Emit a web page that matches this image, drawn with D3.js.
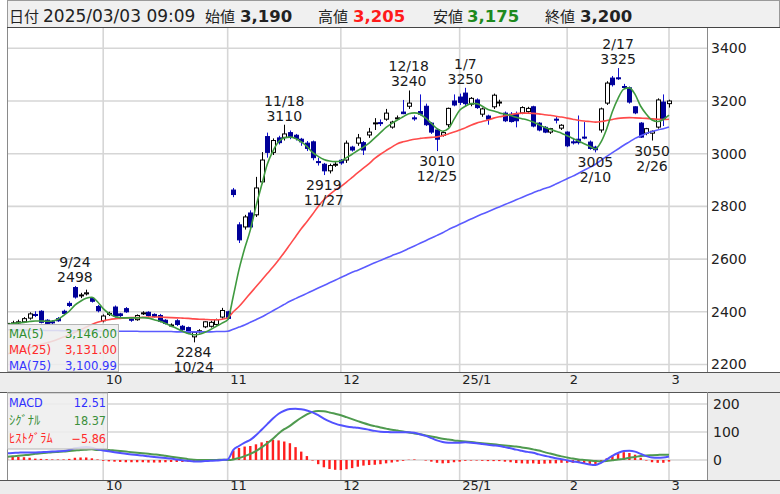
<!DOCTYPE html>
<html>
<head>
<meta charset="utf-8">
<script src="https://cdn.jsdelivr.net/npm/d3@7"></script>
<style>
  body { margin: 0; background: #fff; }
  svg { display: block; font-family: "DejaVu Sans", "Noto Sans CJK JP", sans-serif; }
</style>
</head>
<body>
<svg id="chart" width="780" height="494"></svg>
<script>
// ---- daily series: trading days from 2024/09/04 to 2025/03/03 ----
const tickLabels = ["10", "11", "12", "25/1", "2", "3"];
const tickIndex  = [17, 39, 59, 80, 99, 117];
const priceTicks = [2200, 2400, 2600, 2800, 3000, 3200, 3400];
const macdTicks  = [0, 100, 200];

const open = [2352,2356,2360,2362,2376,2390,2402,2368,2362,2374,2402,2432,2492,2462,2468,2450,2420,
  2366,2392,2418,2392,2412,2372,2370,2394,2398,2390,2386,2368,2350,2366,2345,2340,2305,2326,2343,2345,2352,2380,
  2400,2862,2730,2722,2775,2768,2893,3065,3005,3060,3062,3080,3070,3055,3040,3045,2970,2960,2935,2960,
  2975,2976,3025,3040,3042,3071,3116,3118,3131,3101,3135,3158,3180,3136,3160,3180,3116,3090,3070,3110,3200,
  3215,3230,3188,3204,3150,3143,3178,3196,3154,3150,3152,3155,3160,3178,3116,3100,3082,3131,3097,
  3082,3045,3055,3063,3044,3025,3090,3192,3287,3288,3255,3250,3178,3116,3078,3078,3101,3196,3190];
const high = [2362,2366,2370,2380,2398,2402,2406,2372,2368,2380,2408,2440,2498,2472,2484,2456,2426,
  2390,2400,2424,2396,2418,2378,2390,2402,2402,2394,2392,2372,2356,2372,2350,2344,2326,2334,2364,2366,2374,2415,
  2404,2870,2740,2768,2785,2912,3006,3080,3058,3068,3110,3088,3075,3060,3048,3050,2985,2965,2962,2968,
  2980,3050,3030,3075,3048,3098,3135,3130,3170,3125,3145,3204,3240,3145,3225,3190,3120,3095,3085,3175,3225,
  3228,3250,3215,3210,3175,3148,3228,3205,3160,3158,3160,3180,3178,3182,3120,3105,3098,3140,3112,
  3085,3060,3145,3120,3050,3030,3175,3275,3295,3325,3265,3255,3180,3120,3098,3088,3210,3225,3205];
const low = [2345,2350,2352,2358,2370,2380,2356,2350,2352,2362,2390,2418,2450,2452,2462,2435,2398,
  2360,2384,2378,2380,2396,2362,2366,2388,2382,2378,2360,2352,2342,2346,2328,2316,2284,2318,2338,2340,2348,2374,
  2370,2835,2661,2712,2715,2760,2885,2985,2995,3035,3050,3055,3050,3030,3010,2975,2955,2919,2925,2950,
  2958,2965,3008,3030,2995,3060,3090,3105,3125,3095,3128,3150,3170,3125,3145,3105,3075,3010,3065,3100,3180,
  3185,3180,3180,3170,3140,3110,3170,3180,3120,3118,3100,3150,3155,3100,3085,3078,3075,3115,3090,
  3025,3035,3035,3055,3015,3005,3080,3185,3255,3280,3245,3190,3150,3060,3070,3050,3095,3105,3175];
const close = [2356,2358,2362,2374,2392,2386,2360,2356,2358,2366,2394,2424,2456,2464,2472,2440,2404,
  2384,2394,2384,2386,2400,2368,2386,2396,2386,2382,2364,2356,2350,2352,2332,2320,2322,2328,2362,2360,2370,2405,
  2375,2845,2673,2760,2722,2870,2976,3005,3050,3042,3075,3062,3058,3045,3020,2985,2968,2935,2955,2960,
  2965,3040,3014,3060,3014,3082,3117,3116,3154,3120,3136,3152,3192,3135,3150,3110,3082,3055,3080,3172,3185,
  3195,3190,3210,3175,3170,3131,3222,3196,3125,3122,3125,3175,3172,3105,3090,3082,3095,3130,3108,
  3030,3044,3042,3062,3020,3015,3170,3268,3262,3286,3252,3196,3155,3063,3095,3085,3204,3130,3200];

const ma5 = [2352,2355,2358,2360,2363,2365,2365,2364,2365,2372,2386,2402,2425,2440,2451,2455,2438,
  2412,2394,2382,2378,2377,2377,2377,2378,2376,2370,2364,2356,2346,2337,2326,2318,2313,2315,2322,2333,2345,2357,
  2370,2460,2560,2640,2710,2800,2880,2960,3010,3045,3060,3063,3058,3045,3028,3005,2990,2978,2972,2970,
  2972,2985,2998,3012,3025,3040,3060,3080,3100,3115,3128,3140,3152,3155,3150,3135,3115,3095,3085,3095,3130,
  3165,3180,3190,3190,3180,3168,3162,3155,3150,3145,3138,3133,3128,3120,3110,3100,3093,3085,3078,
  3068,3058,3048,3038,3028,3018,3045,3095,3160,3210,3245,3250,3225,3180,3150,3128,3122,3130,3146];
const ma25 = [2240,2246,2252,2258,2264,2270,2276,2282,2288,2296,2304,2313,2322,2332,2342,2352,2360,
  2366,2370,2373,2375,2377,2378,2378,2379,2380,2380,2380,2379,2378,2377,2376,2375,2373,2372,2371,2370,2370,2372,
  2377,2400,2420,2445,2470,2495,2520,2545,2570,2597,2625,2655,2685,2715,2742,2770,2800,2825,2845,2862,
  2875,2892,2910,2928,2945,2962,2982,2998,3012,3025,3038,3045,3050,3055,3058,3060,3062,3064,3068,3075,3082,
  3090,3098,3108,3116,3122,3128,3135,3140,3144,3148,3152,3154,3154,3153,3151,3148,3146,3142,3139,
  3135,3131,3127,3124,3122,3120,3122,3126,3130,3134,3136,3137,3136,3135,3134,3132,3131,3130,3131];
const ma75 = [2332,2332,2331,2331,2330,2330,2330,2329,2329,2329,2328,2328,2328,2328,2327,2327,2327,
  2327,2327,2326,2326,2326,2326,2326,2325,2325,2325,2325,2325,2325,2324,2324,2324,2324,2324,2324,2324,2325,2325,
  2326,2334,2342,2350,2360,2370,2380,2392,2404,2416,2428,2440,2450,2460,2470,2480,2490,2500,2510,2520,
  2530,2540,2550,2558,2567,2577,2586,2595,2604,2613,2621,2630,2640,2650,2660,2670,2680,2690,2700,2712,2722,
  2732,2742,2752,2762,2771,2780,2789,2798,2807,2816,2825,2834,2843,2852,2860,2868,2875,2885,2895,
  2905,2915,2926,2937,2948,2960,2975,2990,3004,3018,3032,3045,3058,3068,3077,3084,3090,3095,3100.99];

const macd = [24,25,26,27,27,27,28,29,30,31,32,36,42,45,46,44,38,
  34,31,28,25,22,20,18,16,13,11,9,7,5,2,-1,-3,-5,-5,-4,-3,-2,0,
  2,36,50,62,72,88,108,128,148,165,176,182,183,181,177,170,160,148,138,130,
  124,120,117,115,112,108,104,101,100,99,99,99,99,97,92,86,78,70,64,62,62,
  62,63,62,60,57,54,52,50,46,42,37,33,29,26,20,15,11,6,3,
  -1,-5,-8,-12,-16,-18,-10,2,15,25,32,33,30,22,14,9,8,9,12.51];
const signal = [12,13,15,17,19,22,24,26,28,29,30,32,34,36,37,38,36,
  37,36,34,32,30,28,26,24,22,20,18,15,12,9,6,3,1,0,0,0,0,1,
  0,2,7,14,22,32,45,60,76,95,110,122,137,151,163,172,175,174,170,165,
  160,153,146,139,132,126,121,116,112,108,105,102,98,95,92,88,84,80,76,73,70,
  68,66,64,62,60,58,56,54,52,50,48,45,42,38,34,28,23,18,13,
  9,5,2,0,-2,-4,-5,-4,-1,2,4,8,11,14,16,17,18,19,18.37];
const hist = [12,12,11,10,8,5,4,3,2,2,2,4,8,9,9,6,2,
  -3,-5,-6,-7,-8,-8,-8,-8,-9,-9,-9,-8,-7,-7,-7,-6,-6,-5,-4,-3,-2,-1,
  2,34,43,48,50,56,63,68,72,70,66,60,46,30,14,-2,-15,-26,-32,-35,
  -36,-33,-29,-24,-20,-18,-17,-15,-12,-9,-6,-3,1,2,0,-2,-6,-10,-12,-11,-8,
  -6,-3,-2,-2,-3,-4,-4,-4,-6,-8,-11,-12,-13,-12,-14,-13,-12,-12,-10,
  -10,-10,-10,-12,-14,-14,-5,6,16,23,28,25,19,8,-2,-8,-10,-10,-5.86];

// peaks and troughs marked on the price panel
const noteIndex = [12, 33, 49, 56, 71, 76, 81, 104, 108, 114];
const noteDate  = ["9/24","10/24","11/18","11/27","12/18","12/25","1/7","2/10","2/17","2/26"];
const noteKind  = ["high","low","high","low","high","low","high","low","high","low"];

// ---- layout ----
const svg = d3.select("#chart");
const plotL = 7, plotR = 707;
const mainT = 28, mainB = 372, macdT = 392, macdB = 480;
const last = close.length - 1;

const x  = d3.scaleLinear().domain([0, 117]).range([7, 669]);
const y  = d3.scaleLinear().domain([2200, 3400]).range([364.5, 48.3]);
const ym = d3.scaleLinear().domain([0, 200]).range([460, 404]);

const gridColor = "#d6d6d6";
const upCol = "#000000", downBody = "#000099", downWick = "#1010d0";

// backgrounds
svg.append("rect").attr("width", 780).attr("height", 494).attr("fill", "#ffffff");
svg.append("rect").attr("x", 0).attr("y", mainB).attr("width", 780).attr("height", macdT - mainB).attr("fill", "#ededed");
svg.append("rect").attr("x", 0).attr("y", macdB).attr("width", 780).attr("height", 494 - macdB).attr("fill", "#ededed");
svg.append("rect").attr("x", plotR).attr("y", macdT).attr("width", 780 - plotR).attr("height", macdB - macdT).attr("fill", "#ededed");

// header bar
svg.append("rect").attr("x", 7.5).attr("y", 0.5).attr("width", 772).attr("height", 27)
  .attr("fill", "#f0f0f0").attr("stroke", "#9a9a9a");
svg.append("line").attr("x1", 7).attr("x2", 780).attr("y1", 27.5).attr("y2", 27.5).attr("stroke", "#444");
const fmtInt = d3.format(",");
const header = svg.append("text").attr("y", 22).attr("fill", "#222");
const hItems = [
  {t: "日付", x: 9, cjk: true},
  {t: "2025/03/03 09:09", x: 43},
  {t: "始値", x: 205, cjk: true},
  {t: fmtInt(open[last]), x: 240, b: true},
  {t: "高値", x: 318, cjk: true},
  {t: fmtInt(high[last]), x: 353, b: true, c: "#ff1a1a"},
  {t: "安値", x: 433, cjk: true},
  {t: fmtInt(low[last]), x: 467, b: true, c: "#1e8a1e"},
  {t: "終値", x: 545, cjk: true},
  {t: fmtInt(close[last]), x: 580, b: true}
];
hItems.forEach(h => {
  header.append("tspan").attr("x", h.x).text(h.t)
    .attr("font-family", h.cjk ? "'Noto Sans CJK JP', sans-serif" : "'DejaVu Sans', sans-serif")
    .attr("font-size", h.cjk ? 15 : (h.b ? 16.5 : 17))
    .attr("font-weight", h.b ? "bold" : "normal")
    .attr("fill", h.c || "#222");
});

// clip regions
const defs = svg.append("defs");
defs.append("clipPath").attr("id", "clipMain").append("rect")
  .attr("x", plotL).attr("y", mainT).attr("width", plotR - plotL).attr("height", mainB - mainT);
defs.append("clipPath").attr("id", "clipMacd").append("rect")
  .attr("x", plotL).attr("y", macdT).attr("width", plotR - plotL).attr("height", macdB - macdT);

// ---- grid lines ----
const grid = svg.append("g").attr("stroke", gridColor).attr("stroke-width", 1.6);
grid.selectAll(".hg").data(priceTicks).join("line")
  .attr("x1", plotL).attr("x2", plotR).attr("y1", d => y(d)).attr("y2", d => y(d));
grid.selectAll(".vg").data(tickIndex).join("line")
  .attr("x1", d => x(d)).attr("x2", d => x(d)).attr("y1", mainT).attr("y2", mainB);
grid.selectAll(".hm").data(macdTicks).join("line")
  .attr("x1", plotL).attr("x2", plotR).attr("y1", d => ym(d)).attr("y2", d => ym(d));
grid.selectAll(".vm").data(tickIndex).join("line")
  .attr("x1", d => x(d)).attr("x2", d => x(d)).attr("y1", macdT).attr("y2", macdB);

// ---- candlesticks ----
const idx = d3.range(close.length);
const cg = svg.append("g").attr("clip-path", "url(#clipMain)");
cg.selectAll(".wick").data(idx).join("line")
  .attr("x1", i => Math.round(x(i)) + 0.5).attr("x2", i => Math.round(x(i)) + 0.5)
  .attr("y1", i => y(high[i])).attr("y2", i => y(low[i]))
  .attr("stroke", i => close[i] >= open[i] ? upCol : downWick).attr("stroke-width", 1);
cg.selectAll(".body").data(idx).join("rect")
  .attr("x", i => Math.round(x(i)) - 1.5)
  .attr("width", 4)
  .attr("y", i => y(Math.max(open[i], close[i])))
  .attr("height", i => Math.max(1, Math.abs(y(open[i]) - y(close[i]))))
  .attr("fill", i => close[i] >= open[i] ? "#ffffff" : downBody)
  .attr("stroke", i => close[i] >= open[i] ? upCol : downBody)
  .attr("stroke-width", 1);

// ---- moving averages ----
const lineOf = (arr, ys) => d3.line().x((d, i) => x(i)).y(d => ys(d)).curve(d3.curveMonotoneX)(arr);
const lg = svg.append("g").attr("clip-path", "url(#clipMain)").attr("fill", "none").attr("stroke-width", 1.6);
lg.append("path").attr("d", lineOf(ma75, y)).attr("stroke", "#5b5bff");
lg.append("path").attr("d", lineOf(ma25, y)).attr("stroke", "#ff4b4b");
lg.append("path").attr("d", lineOf(ma5, y)).attr("stroke", "#3f9a3f");

// ---- peak / trough notes ----
const ng = svg.append("g").attr("font-size", 14).attr("fill", "#1a1a1a").attr("text-anchor", "middle");
noteIndex.forEach((k, j) => {
  const isHigh = noteKind[j] === "high";
  const v = isHigh ? high[k] : low[k];
  const cx = x(k);
  if (isHigh) {
    ng.append("text").attr("x", cx).attr("y", y(v) - 4).text(v);
    ng.append("text").attr("x", cx).attr("y", y(v) - 19).text(noteDate[j]);
  } else {
    ng.append("text").attr("x", cx).attr("y", y(v) + 15).text(v);
    ng.append("text").attr("x", cx).attr("y", y(v) + 30).text(noteDate[j]);
  }
});

// ---- MACD panel ----
const mg = svg.append("g").attr("clip-path", "url(#clipMacd)");
mg.selectAll(".hb").data(idx).join("rect")
  .attr("x", i => x(i) - 1.2).attr("width", 2.4)
  .attr("y", i => Math.min(ym(hist[i]), ym(0)))
  .attr("height", i => Math.abs(ym(hist[i]) - ym(0)))
  .attr("fill", "#ff1f1f");
mg.append("path").attr("d", lineOf(signal, ym)).attr("fill", "none").attr("stroke", "#4f9a4f").attr("stroke-width", 2);
mg.append("path").attr("d", lineOf(macd, ym)).attr("fill", "none").attr("stroke", "#5252ff").attr("stroke-width", 2);

// ---- frames ----
const frame = svg.append("g").attr("fill", "none");
frame.append("line").attr("x1", plotL + 0.5).attr("x2", plotL + 0.5).attr("y1", mainT).attr("y2", mainB).attr("stroke", "#8a8a8a");
frame.append("line").attr("x1", plotR + 0.5).attr("x2", plotR + 0.5).attr("y1", mainT).attr("y2", mainB).attr("stroke", "#8a8a8a");
frame.append("line").attr("x1", 0).attr("x2", 780).attr("y1", mainB + 0.5).attr("y2", mainB + 0.5).attr("stroke", "#555");
frame.append("line").attr("x1", 0).attr("x2", 780).attr("y1", macdT + 0.5).attr("y2", macdT + 0.5).attr("stroke", "#555");
frame.append("line").attr("x1", 0).attr("x2", 780).attr("y1", macdB + 0.5).attr("y2", macdB + 0.5).attr("stroke", "#555");
frame.append("line").attr("x1", plotL + 0.5).attr("x2", plotL + 0.5).attr("y1", macdT).attr("y2", macdB).attr("stroke", "#8a8a8a");
frame.append("line").attr("x1", plotR + 0.5).attr("x2", plotR + 0.5).attr("y1", macdT).attr("y2", macdB).attr("stroke", "#8a8a8a");

// ---- axes ----
function styleAxis(g, size, anchor, dx) {
  g.select(".domain").remove();
  g.selectAll(".tick line").remove();
  g.selectAll("text").attr("font-size", size).attr("fill", "#222")
    .attr("font-family", "'DejaVu Sans', sans-serif");
  if (anchor) g.selectAll("text").attr("text-anchor", anchor).attr("dx", dx);
}
svg.append("g").attr("transform", `translate(${plotR},0)`)
  .call(d3.axisRight(y).tickValues(priceTicks).tickSize(0).tickPadding(4).tickFormat(d3.format("d")))
  .call(g => styleAxis(g, 14));
svg.append("g").attr("transform", `translate(${plotR},0)`)
  .call(d3.axisRight(ym).tickValues(macdTicks).tickSize(0).tickPadding(6).tickFormat(d3.format("d")))
  .call(g => styleAxis(g, 14));
const xAxis = d3.axisBottom(x).tickValues(tickIndex).tickSize(0).tickPadding(0)
  .tickFormat((d, i) => tickLabels[i]);
svg.append("g").attr("transform", `translate(0,${mainB + 3})`).call(xAxis)
  .call(g => styleAxis(g, 13, "start", 2));
svg.append("g").attr("transform", `translate(0,${macdB + 1})`).call(xAxis)
  .call(g => styleAxis(g, 13, "start", 2));

// ---- legends ----
const f2 = d3.format(",.2f");
const maLeg = svg.append("g").attr("font-family", "'DejaVu Sans Condensed', 'DejaVu Sans', sans-serif").attr("font-size", 13);
maLeg.append("rect").attr("x", 7.5).attr("y", 324.5).attr("width", 111).attr("height", 47)
  .attr("fill", "#eeeeee").attr("fill-opacity", 0.86).attr("stroke", "#b5b5b5");
[["MA(5)", ma5, "#2f8f2f", 338], ["MA(25)", ma25, "#ff2a2a", 354], ["MA(75)", ma75, "#3535ff", 370]]
  .forEach(([name, arr, col, by]) => {
    maLeg.append("text").attr("x", 9).attr("y", by).attr("fill", col).text(name);
    maLeg.append("text").attr("x", 117).attr("y", by).attr("fill", col).attr("text-anchor", "end").text(f2(arr[last]));
  });

const mLeg = svg.append("g").attr("font-family", "'DejaVu Sans Condensed', 'DejaVu Sans', sans-serif").attr("font-size", 12.5);
mLeg.append("rect").attr("x", 7.5).attr("y", 393).attr("width", 100).attr("height", 56)
  .attr("fill", "#eeeeee").attr("fill-opacity", 0.86).attr("stroke", "#b5b5b5");
[["MACD", macd, "#2f2fff", 407], ["ｼｸﾞﾅﾙ", signal, "#3a8f3a", 425], ["ﾋｽﾄｸﾞﾗﾑ", hist, "#ff2a2a", 443]]
  .forEach(([name, arr, col, by]) => {
    mLeg.append("text").attr("x", 9).attr("y", by).attr("fill", col)
      .attr("font-family", name === "MACD" ? null : "'Noto Sans CJK JP', sans-serif").text(name);
    mLeg.append("text").attr("x", 106).attr("y", by).attr("fill", col).attr("text-anchor", "end").text(d3.format(".2f")(arr[last]));
  });
</script>
</body>
</html>
